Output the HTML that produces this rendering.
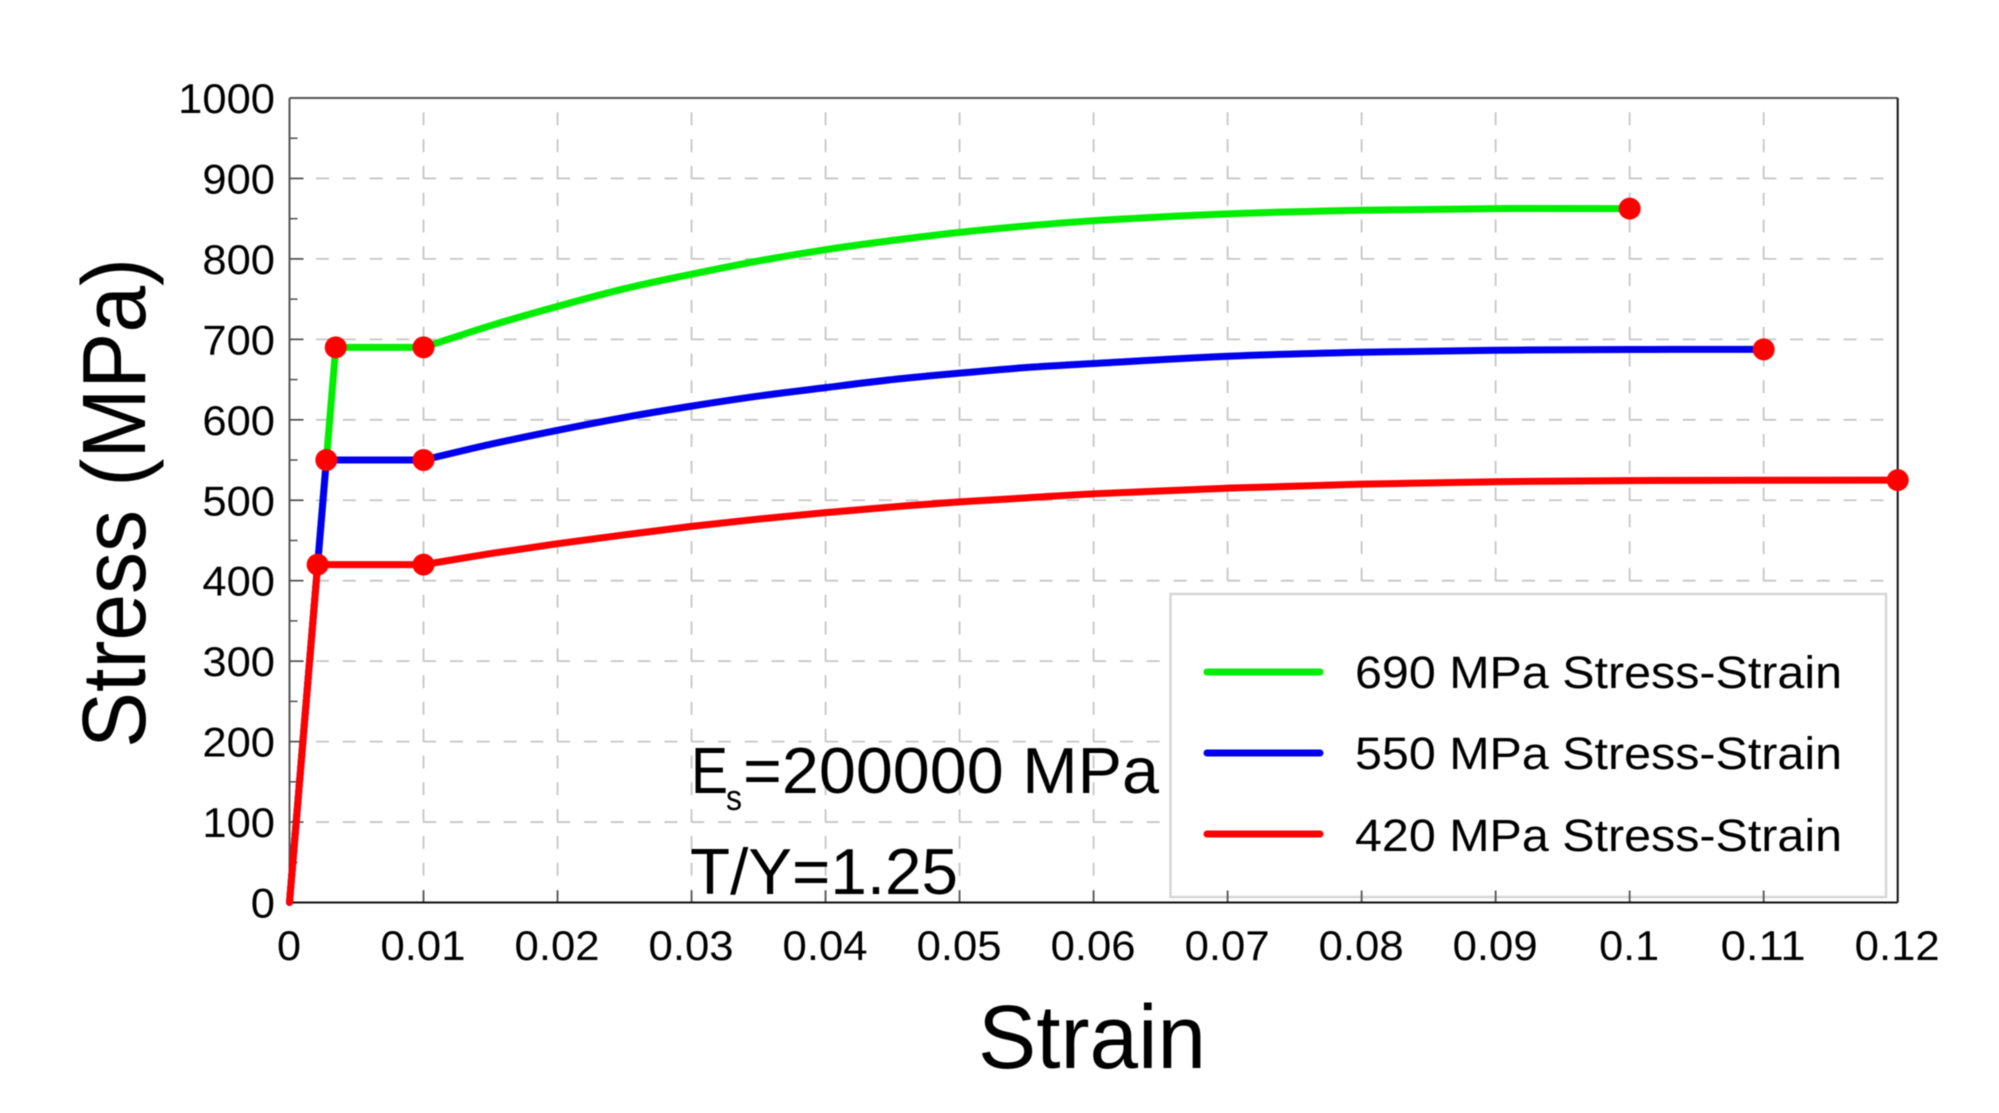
<!DOCTYPE html>
<html lang="en">
<head>
<meta charset="utf-8">
<title>Stress-Strain Curves</title>
<style>
  html, body { margin: 0; padding: 0; background: #fff; }
  svg { display: block; filter: blur(0.5px); }
  text { font-family: "Liberation Sans", sans-serif; fill: #000; }
</style>
</head>
<body>
<svg id="chart" xmlns="http://www.w3.org/2000/svg" width="1999" height="1113" viewBox="0 0 1999 1113"></svg>
<script>
const xTickLabels = ["0","0.01","0.02","0.03","0.04","0.05","0.06","0.07","0.08","0.09","0.1","0.11","0.12"];
const xTickValues = [0,0.01,0.02,0.03,0.04,0.05,0.06,0.07,0.08,0.09,0.1,0.11,0.12];
const yTickLabels = ["0","100","200","300","400","500","600","700","800","900","1000"];
const yTickValues = [0,100,200,300,400,500,600,700,800,900,1000];
const yMinorValues = [50,150,250,350,450,550,650,750,850,950];

const strain690 = [0,0.00345,0.01,0.015,0.02,0.025,0.03,0.035,0.04,0.045,0.05,0.055,0.06,0.07,0.08,0.09,0.1];
const stress690 = [0,690,690,717,741,763,781,797.5,811.5,823,833,841,847.5,856,860.5,862.5,862.5];

const strain550 = [0,0.00275,0.01,0.015,0.02,0.025,0.03,0.035,0.04,0.045,0.05,0.055,0.06,0.07,0.08,0.09,0.1,0.11];
const stress550 = [0,550,550,569.6,587,603,617,629.5,640,650,658,665,670,679,684,686.4,687.4,687.5];

const strain420 = [0,0.0021,0.01,0.015,0.02,0.025,0.03,0.035,0.04,0.045,0.05,0.055,0.06,0.07,0.08,0.09,0.1,0.11,0.12];
const stress420 = [0,420,420,433.7,446,457,467.5,476.6,484.6,491.7,498,503,508,515,520,523,524.4,524.9,525];

const NS = "http://www.w3.org/2000/svg";
const svg = document.getElementById("chart");
const plotL = 289.5, plotR = 1897.7, plotT = 98, plotB = 902.5;
const xMax = 0.12, yMax = 1000;
function sx(v) { return plotL + (v / xMax) * (plotR - plotL); }
function sy(v) { return plotB - (v / yMax) * (plotB - plotT); }
function make(tag, attrs) {
  const e = document.createElementNS(NS, tag);
  for (const k in attrs) e.setAttribute(k, attrs[k]);
  svg.appendChild(e);
  return e;
}
function widthForX(label) {
  if (label.length === 1) return 24;
  if (label.length === 3) return 60;
  return 85;
}
let el;

// gridlines
yTickValues.slice(1, 10).forEach(function (v) {
  el = make("line", { x1: 316, x2: 1884, y1: sy(v), y2: sy(v), stroke: "#c6c6c6", "stroke-width": 1.8, "stroke-dasharray": "13 13.8" });
  
  
});
xTickValues.slice(1, 12).forEach(function (v, i) {
  el = make("line", { x1: sx(v), x2: sx(v), y1: plotB, y2: 112, stroke: "#c6c6c6", "stroke-width": 1.8, "stroke-dasharray": "13 13.8" });
  
  
});

// legend box (covers the grid)
el = make("rect", { x: 1170.5, y: 594, width: 715.5, height: 303, fill: "#fff", stroke: "#d6d6d6", "stroke-width": 2.5 });



// ticks
yTickValues.forEach(function (v) {
  el = make("line", { x1: plotL, x2: plotL + 14, y1: sy(v), y2: sy(v), stroke: "#444", "stroke-width": 1.6 });
  
  
});
yMinorValues.forEach(function (v) {
  el = make("line", { x1: plotL, x2: plotL + 8, y1: sy(v), y2: sy(v), stroke: "#444", "stroke-width": 1.4 });
  
  
});
xTickValues.slice(1, 12).forEach(function (v, i) {
  el = make("line", { x1: sx(v), x2: sx(v), y1: plotB, y2: plotB - 12, stroke: "#555", "stroke-width": 1.8 });
  
  
});

// axes frame
el = make("line", { x1: plotL, x2: plotR, y1: plotT, y2: plotT, stroke: "#555", "stroke-width": 2 });


el = make("line", { x1: plotL, x2: plotL, y1: plotT, y2: plotB, stroke: "#555", "stroke-width": 2 });


el = make("line", { x1: plotL, x2: plotR, y1: plotB, y2: plotB, stroke: "#111", "stroke-width": 2 });


el = make("line", { x1: plotR, x2: plotR, y1: plotT, y2: plotB, stroke: "#111", "stroke-width": 2 });



// tick labels
yTickValues.forEach(function (v, i) {
  const label = yTickLabels[i];
  el = make("text", { x: 275, y: sy(v) + 15, "font-size": 42, "text-anchor": "end", textLength: label.length * 24.2, lengthAdjust: "spacingAndGlyphs" });
  el.textContent = label;
  
  
});
xTickValues.forEach(function (v, i) {
  const label = xTickLabels[i];
  el = make("text", { x: sx(v) - 0.5, y: 960, "font-size": 42, "text-anchor": "middle", textLength: widthForX(label), lengthAdjust: "spacingAndGlyphs" });
  el.textContent = label;
  
  
});

// axis titles
el = make("text", { x: 1092, y: 1068, "font-size": 90, "text-anchor": "middle", textLength: 228, lengthAdjust: "spacingAndGlyphs" });
el.textContent = "Strain";


el = make("text", { x: 0, y: 0, "font-size": 90, "text-anchor": "middle", textLength: 490, lengthAdjust: "spacingAndGlyphs", transform: "translate(145 503) rotate(-90)" });
el.textContent = "Stress (MPa)";



// annotations
el = make("text", { x: 691, y: 793, "font-size": 65, textLength: 37, lengthAdjust: "spacingAndGlyphs" });
el.textContent = "E";


el = make("text", { x: 726, y: 810, "font-size": 36, textLength: 16, lengthAdjust: "spacingAndGlyphs" });
el.textContent = "s";


el = make("text", { x: 743, y: 793, "font-size": 65, textLength: 416, lengthAdjust: "spacingAndGlyphs" });
el.textContent = "=200000 MPa";


el = make("text", { x: 690, y: 894, "font-size": 65, textLength: 268, lengthAdjust: "spacingAndGlyphs" });
el.textContent = "T/Y=1.25";



// series lines: straight elastic and plateau parts, smooth hardening curve
function linePath(xs, ys) {
  const p = xs.map(function (x, i) { return [sx(x), sy(ys[i])]; });
  let d = "M" + p[0][0].toFixed(2) + " " + p[0][1].toFixed(2);
  d += " L" + p[1][0].toFixed(2) + " " + p[1][1].toFixed(2);
  d += " L" + p[2][0].toFixed(2) + " " + p[2][1].toFixed(2);
  for (let i = 2; i < p.length - 1; i++) {
    const a = i > 2 ? p[i - 1] : p[i];
    const b = p[i];
    const c = p[i + 1];
    const e = i + 2 < p.length ? p[i + 2] : p[i + 1];
    const h = c[0] - b[0];
    const t0 = (c[1] - a[1]) / (c[0] - a[0]);
    const t1 = (e[1] - b[1]) / (e[0] - b[0]);
    d += " C" + (b[0] + h / 3).toFixed(2) + " " + (b[1] + t0 * h / 3).toFixed(2) +
         " " + (c[0] - h / 3).toFixed(2) + " " + (c[1] - t1 * h / 3).toFixed(2) +
         " " + c[0].toFixed(2) + " " + c[1].toFixed(2);
  }
  return d;
}
el = make("path", { d: linePath(strain690, stress690), fill: "none", stroke: "#00ee00", "stroke-width": 7, "stroke-linejoin": "round", "stroke-linecap": "round" });


el = make("path", { d: linePath(strain550, stress550), fill: "none", stroke: "#0000ee", "stroke-width": 7, "stroke-linejoin": "round", "stroke-linecap": "round" });


el = make("path", { d: linePath(strain420, stress420), fill: "none", stroke: "#ff0000", "stroke-width": 7, "stroke-linejoin": "round", "stroke-linecap": "round" });



// series markers: yield point, end of plateau, ultimate point
function addMarkers(xs, ys, name) {
  [1, 2, xs.length - 1].forEach(function (idx) {
    const m = make("circle", { cx: sx(xs[idx]), cy: sy(ys[idx]), r: 11, fill: "#ff0000" });
    
    
  });
}
addMarkers(strain690, stress690, 'series-690-mpa');
addMarkers(strain550, stress550, 'series-550-mpa');
addMarkers(strain420, stress420, 'series-420-mpa');

// legend entries
el = make("line", { x1: 1207, x2: 1320, y1: 672, y2: 672, stroke: "#00ee00", "stroke-width": 7, "stroke-linecap": "round" });


el = make("text", { x: 1355, y: 688, "font-size": 45, textLength: 487, lengthAdjust: "spacingAndGlyphs" });
el.textContent = "690 MPa Stress-Strain";


el = make("line", { x1: 1207, x2: 1320, y1: 753, y2: 753, stroke: "#0000ee", "stroke-width": 7, "stroke-linecap": "round" });


el = make("text", { x: 1355, y: 769, "font-size": 45, textLength: 487, lengthAdjust: "spacingAndGlyphs" });
el.textContent = "550 MPa Stress-Strain";


el = make("line", { x1: 1207, x2: 1320, y1: 834, y2: 834, stroke: "#ff0000", "stroke-width": 7, "stroke-linecap": "round" });


el = make("text", { x: 1355, y: 851, "font-size": 45, textLength: 487, lengthAdjust: "spacingAndGlyphs" });
el.textContent = "420 MPa Stress-Strain";


</script>
</body>
</html>
